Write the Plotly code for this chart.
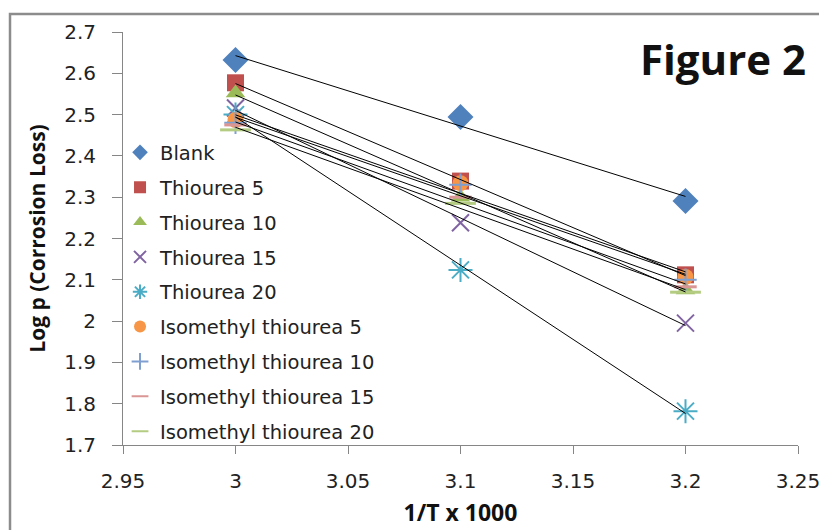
import numpy as np
import plotly.graph_objects as go

x_vals = [3.0, 3.1, 3.2]

series_names = [
    "Blank", "Thiourea 5", "Thiourea 10", "Thiourea 15", "Thiourea 20",
    "Isomethyl thiourea 5", "Isomethyl thiourea 10", "Isomethyl thiourea 15",
    "Isomethyl thiourea 20",
]
blank = [2.632, 2.494, 2.291]
thiourea_5 = [2.577, 2.339, 2.112]
thiourea_10 = [2.552, 2.300, 2.075]
thiourea_15 = [2.516, 2.238, 1.995]
thiourea_20 = [2.500, 2.124, 1.782]
iso_5 = [2.487, 2.334, 2.107]
iso_10 = [2.480, 2.330, 2.100]
iso_15 = [2.475, 2.300, 2.083]
iso_20 = [2.463, 2.285, 2.070]
series_values = [blank, thiourea_5, thiourea_10, thiourea_15, thiourea_20,
                 iso_5, iso_10, iso_15, iso_20]

x_ticks = [2.95, 3.0, 3.05, 3.1, 3.15, 3.2, 3.25]
y_ticks = [1.7, 1.8, 1.9, 2.0, 2.1, 2.2, 2.3, 2.4, 2.5, 2.6, 2.7]

colors = ["#4F81BD", "#C0504D", "#9BBB59", "#8064A2", "#4BACC6",
          "#F79646", "#7F9FD0", "#D99694", "#B3CC82"]
symbols = ["diamond", "square", "triangle-up", "x-thin", "asterisk",
           "circle", "cross-thin", "line-ew", "line-ew"]
sizes = [20, 17, 17, 17, 20, 16, 16, 16, 22]

fig = go.Figure()
for i, (name, vals) in enumerate(zip(series_names, series_values)):
    open_sym = symbols[i] in ("x-thin", "asterisk", "cross-thin", "line-ew")
    marker = dict(symbol=symbols[i], size=sizes[i], color=colors[i])
    if open_sym:
        marker["line"] = dict(color=colors[i], width=3 if symbols[i] == "line-ew" else 2)
    else:
        marker["line"] = dict(width=0)
    fig.add_trace(go.Scatter(
        x=x_vals, y=vals, mode="markers", name=name, marker=marker,
        legendgroup=name, showlegend=True,
    ))

# linear trendlines
for name, vals in zip(series_names, series_values):
    slope, intercept = np.polyfit(x_vals, vals, 1)
    xs = [x_vals[0], x_vals[-1]]
    ys = [slope * xv + intercept for xv in xs]
    fig.add_trace(go.Scatter(
        x=xs, y=ys, mode="lines", line=dict(color="black", width=1),
        showlegend=False, hoverinfo="skip", legendgroup=name,
    ))

axis_font = dict(family="DejaVu Sans", size=20, color="#222222")

fig.update_layout(
    width=827, height=530,
    margin=dict(l=115, r=37, t=24, b=93),
    paper_bgcolor="white", plot_bgcolor="white",
    showlegend=True,
    legend=dict(
        x=-0.0044, y=0.755, xanchor="left", yanchor="top",
        font=dict(family="DejaVu Sans", size=19.5, color="#222222"),
        bgcolor="rgba(0,0,0,0)", itemsizing="constant",
        tracegroupgap=6.5, traceorder="grouped",
    ),
    xaxis=dict(
        range=[2.95, 3.25], tickvals=x_ticks, ticktext=[f"{v:g}" for v in x_ticks],
        showgrid=False, zeroline=False, showline=True, linecolor="#868686",
        linewidth=1, ticks="outside", ticklen=8, tickcolor="#868686",
        tickfont=axis_font, ticklabelstandoff=10,
        title=dict(text="<b>1/T x 1000</b>", standoff=12,
                   font=dict(family="Open Sans", size=23, color="#111111")),
    ),
    yaxis=dict(
        range=[1.7, 2.7], tickvals=y_ticks, ticktext=[f"{v:g}" for v in y_ticks],
        showgrid=False, zeroline=False, showline=True, linecolor="#868686",
        linewidth=1, ticks="outside", ticklen=10, tickcolor="#868686",
        tickfont=axis_font, ticklabelstandoff=12,
        title=dict(text="<b>Log p (Corrosion Loss)</b>", standoff=12,
                   font=dict(family="Open Sans", size=21, color="#111111")),
    ),
    annotations=[dict(
        text="<b>Figure 2</b>", xref="paper", yref="paper",
        x=1.015, y=0.937, xanchor="right", yanchor="middle", showarrow=False,
        font=dict(family="Open Sans", size=42, color="#111111"),
    )],
    shapes=[dict(
        type="rect", xref="paper", yref="paper",
        x0=-0.1674, x1=1.2, y0=-0.4, y1=1.0436,
        line=dict(color="#8C8C8C", width=2.5), layer="below",
    )],
)

fig.write_html("out.html")
